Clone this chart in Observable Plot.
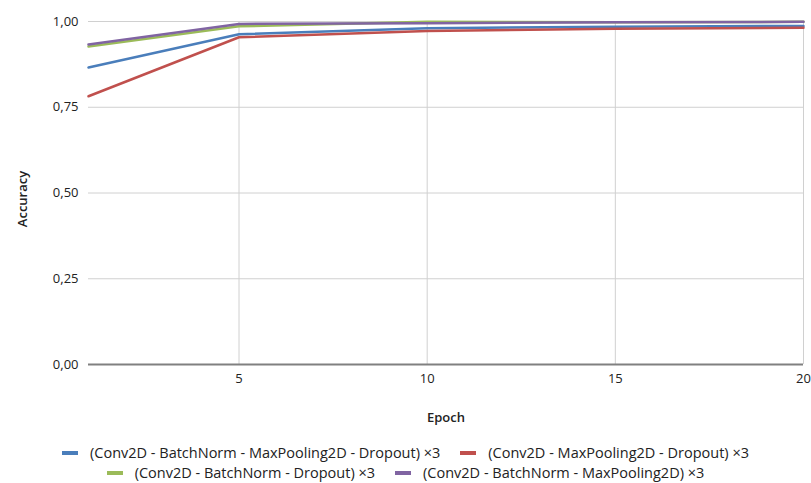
<!DOCTYPE html>
<html>
<head>
<meta charset="utf-8">
<script src="https://cdn.jsdelivr.net/npm/d3@7"></script>
<script src="https://cdn.jsdelivr.net/npm/@observablehq/plot@0.6"></script>
<style>
  body { margin: 0; background: #fff; font-family: "Open Sans", sans-serif; }
  #legend { display: flex; flex-direction: column; align-items: center; gap: 1px; font-size: 14.5px; line-height: 19px; color: #222; margin-top: 8px; }
  .row { display: flex; gap: 20px; }
  .item { display: flex; align-items: center; gap: 12px; }
  .sw { width: 16px; height: 4px; display: inline-block; }
</style>
</head>
<body>
<div id="chart"></div>
<div id="legend"></div>
<script>
const epochs = [1, 5, 10, 15, 20];
const seriesNames = [
  "(Conv2D - BatchNorm - MaxPooling2D - Dropout) ×3",
  "(Conv2D - MaxPooling2D - Dropout) ×3",
  "(Conv2D - BatchNorm - Dropout) ×3",
  "(Conv2D - BatchNorm - MaxPooling2D) ×3"
];
const colors = ["#4a7ebb", "#c0504d", "#9bbb59", "#8064a2"];
const blueVals   = [0.866, 0.963, 0.980, 0.985, 0.987];
const redVals    = [0.782, 0.954, 0.972, 0.979, 0.982];
const greenVals  = [0.927, 0.986, 0.999, 0.998, 0.999];
const purpleVals = [0.933, 0.993, 0.995, 0.998, 0.999];
const xTicks = [5, 10, 15, 20];
const yTicks = [0, 0.25, 0.5, 0.75, 1];

const allVals = [blueVals, redVals, greenVals, purpleVals];
const data = [];
allVals.forEach((vals, si) => vals.forEach((v, i) => data.push({series: seriesNames[si], epoch: epochs[i], acc: v})));

const fmt = d => d3.format(".2f")(d).replace(".", ",");

const chart = Plot.plot({
  width: 811,
  height: 435,
  marginTop: 21,
  marginLeft: 88,
  marginRight: 8,
  marginBottom: 71,
  style: {fontFamily: "Open Sans, sans-serif", fontSize: "13px", color: "#222"},
  x: {domain: [1, 20], ticks: xTicks, tickSize: 0, tickPadding: 9, label: null},
  y: {domain: [0, 1], ticks: yTicks, tickSize: 0, tickPadding: 10, tickFormat: fmt, label: null},
  color: {domain: seriesNames, range: colors},
  marks: [
    Plot.gridX(xTicks, {stroke: "#d0d0d0", strokeOpacity: 1, strokeWidth: 1}),
    Plot.gridY(yTicks.filter(d => d > 0), {stroke: "#d0d0d0", strokeOpacity: 1, strokeWidth: 1}),
    Plot.ruleY([0], {stroke: "#808080", strokeWidth: 2}),
    Plot.axisX({ticks: xTicks, tickSize: 0, tickPadding: 9, fontSize: 13, label: null}),
    Plot.axisY({ticks: yTicks, tickSize: 0, tickPadding: 10, tickFormat: fmt, fontSize: 13, label: null}),
    Plot.line(data, {x: "epoch", y: "acc", z: "series", stroke: "series", strokeWidth: 2.5}),
    Plot.text(["Epoch"], {frameAnchor: "bottom", dy: 57, fontSize: 13, fontWeight: 600}),
    Plot.text(["Accuracy"], {frameAnchor: "left", textAnchor: "middle", dx: -66, dy: 6, rotate: -90, fontSize: 13, fontWeight: 600})
  ]
});
document.getElementById("chart").appendChild(chart);

const legend = document.getElementById("legend");
const rows = [[0, 1], [2, 3]];
rows.forEach(r => {
  const row = document.createElement("div");
  row.className = "row";
  r.forEach(i => {
    const it = document.createElement("div");
    it.className = "item";
    const sw = document.createElement("span");
    sw.className = "sw";
    sw.style.background = colors[i];
    const t = document.createElement("span");
    t.textContent = seriesNames[i];
    it.appendChild(sw); it.appendChild(t);
    row.appendChild(it);
  });
  legend.appendChild(row);
});
</script>
</body>
</html>
